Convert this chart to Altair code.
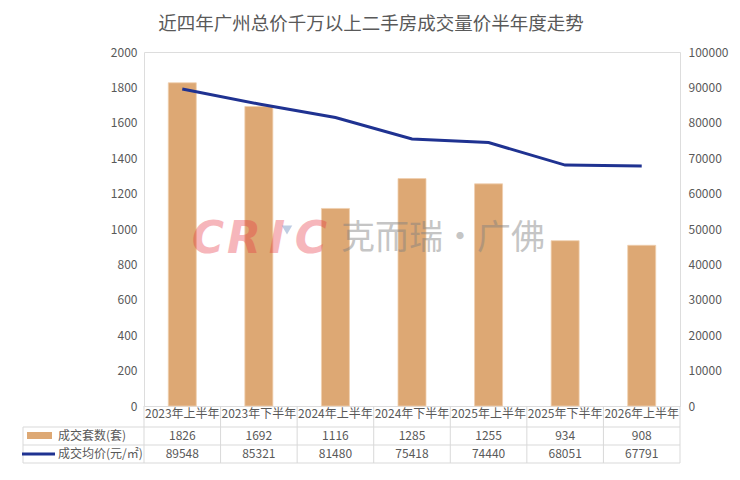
import altair as alt
import pandas as pd

categories = ["2023年上半年", "2023年下半年", "2024年上半年", "2024年下半年",
              "2025年上半年", "2025年下半年", "2026年上半年"]
deals = [1826, 1692, 1116, 1285, 1255, 934, 908]
prices = [89548, 85321, 81480, 75418, 74440, 68051, 67791]
series_names = ["成交套数(套)", "成交均价(元/㎡)"]
title_text = "近四年广州总价千万以上二手房成交量价半年度走势"
left_ticks = list(range(0, 2001, 200))
right_ticks = list(range(0, 100001, 10000))

df = pd.DataFrame({"cat": categories, "deals": deals, "price": prices})
one = pd.DataFrame({"k": [0]})

FONT = "Noto Sans CJK SC"
GREY = "#595959"
GRID = "#D9D9D9"
BAR = "#DDA874"
LINE = "#1F3291"
W, H = 536, 354

xscale = alt.Scale(paddingInner=0, paddingOuter=0)
xaxis = alt.Axis(title=None, labelAngle=0, ticks=False, domain=False, labelPadding=2,
                 labelFontSize=12, labelColor=GREY, labelFont=FONT,
                 labelOverlap=False, labelLimit=0)


def X(**kw):
    return alt.X("cat:N", sort=categories, scale=xscale, axis=xaxis, **kw)


bars = alt.Chart(df).mark_bar(width=28, color=BAR, stroke="#F0CFAE", strokeWidth=0.8).encode(
    x=X(),
    y=alt.Y("deals:Q", scale=alt.Scale(domain=[0, 2000]),
            axis=alt.Axis(title=None, values=left_ticks, format="d", grid=False, ticks=False,
                          domain=False, labelPadding=7, labelFontSize=12, labelColor=GREY,
                          labelFont=FONT)),
)

line = alt.Chart(df).mark_line(color=LINE, strokeWidth=3).encode(
    x=X(),
    y=alt.Y("price:Q", scale=alt.Scale(domain=[0, 100000]),
            axis=alt.Axis(title=None, orient="right", values=right_ticks, format="d", grid=False,
                          ticks=False, domain=False, labelPadding=8, labelFontSize=12,
                          labelColor=GREY, labelFont=FONT)),
)

# data table rows
row1 = alt.Chart(df).mark_text(font=FONT, fontSize=12, color=GREY, baseline="middle").encode(
    x=X(), y=alt.value(384), text=alt.Text("deals:Q", format="d"))
row2 = alt.Chart(df).mark_text(font=FONT, fontSize=12, color=GREY, baseline="middle").encode(
    x=X(), y=alt.value(402), text=alt.Text("price:Q", format="d"))

# table grid
vlines = alt.Chart(df).mark_rule(color=GRID, strokeWidth=1).encode(
    x=X(bandPosition=0), y=alt.value(354), y2=alt.value(411))
vlast = alt.Chart(one).mark_rule(color=GRID, strokeWidth=1).encode(
    x=alt.value(W), y=alt.value(354), y2=alt.value(411))
vleft = alt.Chart(one).mark_rule(color=GRID, strokeWidth=1).encode(
    x=alt.value(-121), y=alt.value(375), y2=alt.value(411))
hlines = [alt.Chart(one).mark_rule(color=GRID, strokeWidth=1).encode(
    x=alt.value(-121), x2=alt.value(W), y=alt.value(yy)) for yy in (375, 393, 411)]

# legend keys in table
key_bar = alt.Chart(one).mark_rect(color=BAR).encode(
    x=alt.value(-117), x2=alt.value(-92), y=alt.value(380), y2=alt.value(387))
key_line = alt.Chart(one).mark_rule(color=LINE, strokeWidth=3).encode(
    x=alt.value(-122), x2=alt.value(-89), y=alt.value(402))
key_t1 = alt.Chart(one).mark_text(text=series_names[0], font=FONT, fontSize=12, color=GREY,
                                  align="left", baseline="middle").encode(
    x=alt.value(-86), y=alt.value(384))
key_t2 = alt.Chart(one).mark_text(text=series_names[1], font=FONT, fontSize=12, color=GREY,
                                  align="left", baseline="middle").encode(
    x=alt.value(-86), y=alt.value(402))

# title
title = alt.Chart(one).mark_text(text=title_text, font=FONT, fontSize=18.5, color=GREY,
                                 align="center", baseline="middle").encode(
    x=alt.value(227), y=alt.value(-28))

# watermark
wm = []
for letter, xx in zip("CRIC", (64, 100, 133, 167)):
    wm.append(alt.Chart(one).mark_text(text=letter, font="DejaVu Sans", fontSize=44,
                                       fontWeight="bold", fontStyle="italic", color="#E8323F",
                                       opacity=0.35, align="center", baseline="middle").encode(
        x=alt.value(xx), y=alt.value(188)))
wm.append(alt.Chart(one).mark_point(shape="triangle-down", filled=True, size=110,
                                    color="#7F9CC8", opacity=0.5).encode(
    x=alt.value(143), y=alt.value(178)))
wm.append(alt.Chart(one).mark_text(text="克而瑞·广佛", font=FONT, fontSize=34, color="#808080",
                                   opacity=0.45, align="center", baseline="middle").encode(
    x=alt.value(299), y=alt.value(187)))

chart = alt.layer(
    bars, *wm, line, row1, row2, vlines, vlast, vleft, *hlines,
    key_bar, key_line, key_t1, key_t2, title
).resolve_scale(y="independent").properties(
    width=W, height=H,
    autosize=alt.AutoSizeParams(type="none"),
    padding={"left": 136, "top": 44, "right": 52, "bottom": 66},
).configure_view(stroke=GRID).configure(background="white")

chart.save("out.html", embed_options={"renderer": "svg", "actions": False})
